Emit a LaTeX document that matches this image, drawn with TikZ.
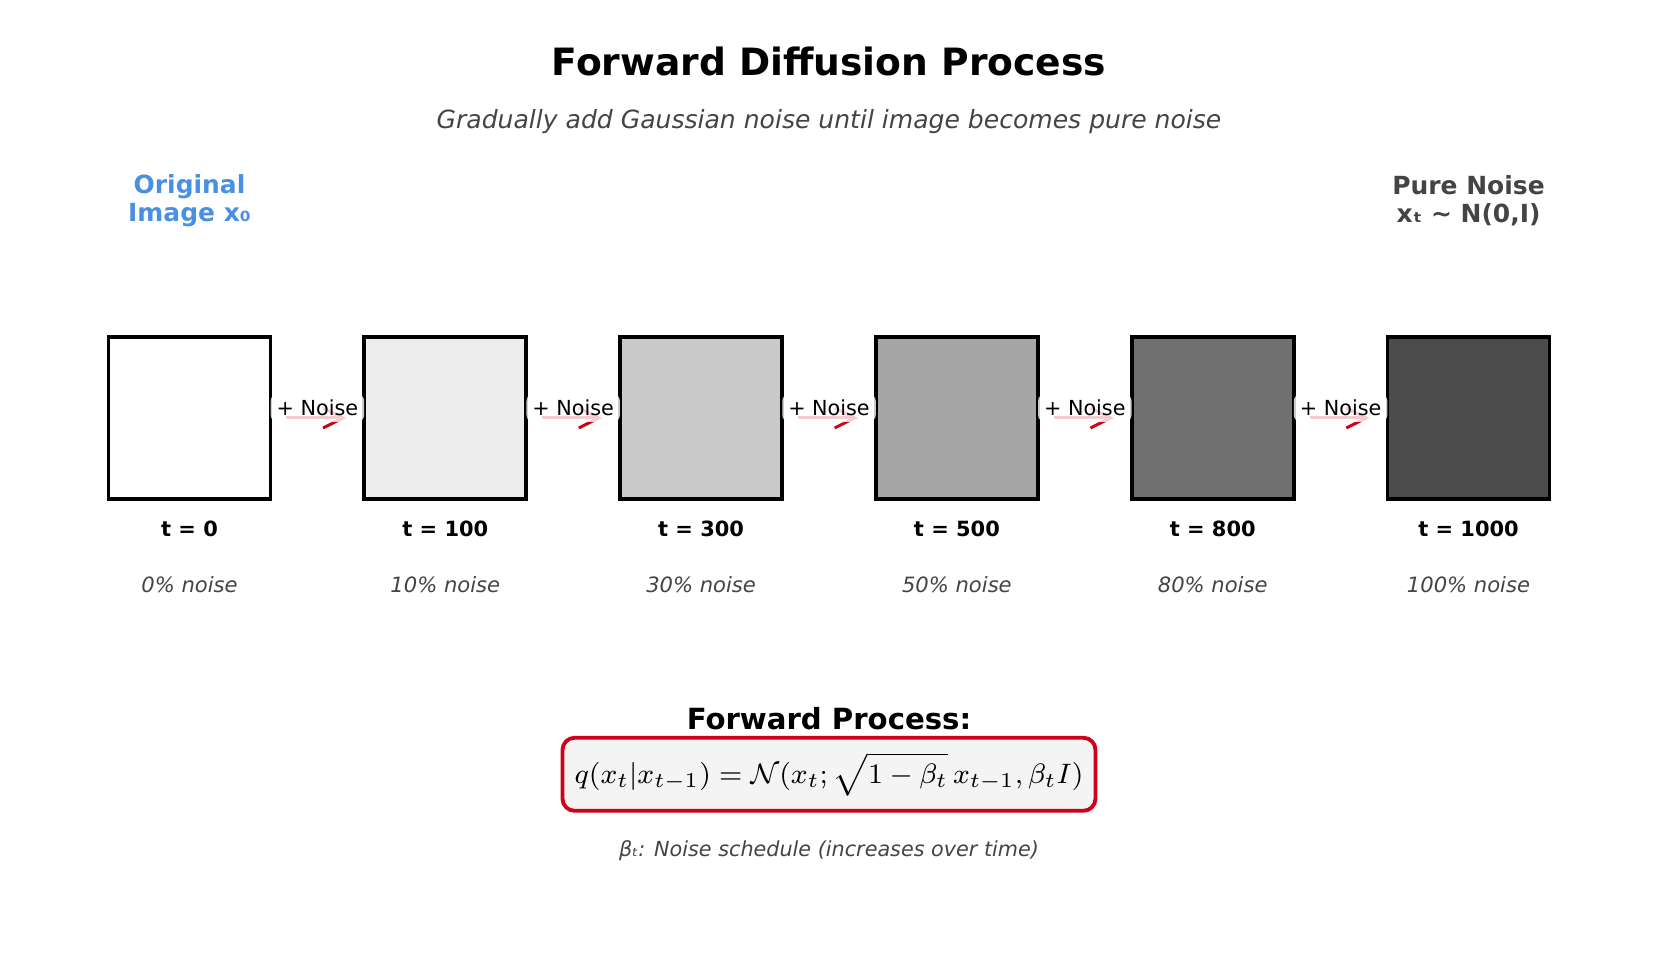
\documentclass[tikz,border=0pt]{standalone}
\usepackage{fontspec}
\setmainfont{DejaVu Sans}
\usetikzlibrary{arrows.meta}

\definecolor{origblue}{HTML}{4A90E2}
\definecolor{textgray}{HTML}{444444}
\definecolor{noisered}{HTML}{D0021B}
\definecolor{formulabg}{HTML}{F4F4F4}

\tikzset{
  imgbox/.style={draw=black, line width=1.1pt, minimum size=1.62cm, inner sep=0pt},
  steplabel/.style={font=\fontsize{5.96}{7}\selectfont\bfseries},
  pctlabel/.style={font=\fontsize{6}{7}\selectfont\itshape, text=textgray},
  noisearrow/.style={noisered, line width=0.85pt, -{Straight Barb[length=0.2cm, width=0.2cm]}, shorten <=0.14cm, shorten >=0.16cm},
  noiselabel/.style={fill=white, fill opacity=0.8, text opacity=1, rounded corners=2pt, inner xsep=0.06cm, inner ysep=0pt, minimum height=0.28cm, font=\fontsize{5.9}{7}\selectfont}
}

\begin{document}
\begin{tikzpicture}

\useasboundingbox (0,0) rectangle (16.57,9.53);

% title
\node[font=\fontsize{10.7}{13}\selectfont\bfseries] (title) at (8.29, 8.917) {Forward Diffusion Process};
\node[font=\fontsize{7.13}{9}\selectfont\itshape, text=textgray] (subtitle) at (8.29, 8.314) {Gradually add Gaussian noise until image becomes pure noise};

\node[align=center, font=\fontsize{7.1}{8.1}\selectfont\bfseries, text=origblue] (orig) at (1.895, 7.522) {Original\\Image x₀};
\node[align=center, font=\fontsize{7.1}{8.1}\selectfont\bfseries, text=textgray] (pure) at (14.685, 7.522) {Pure Noise\\xₜ \textasciitilde{} N(0,I)};

% images
\node[imgbox, fill=white] (b0) at (1.895, 5.35) {};
\node[imgbox, fill=black!7] (b1) at (4.453, 5.35) {};
\node[imgbox, fill=black!21] (b2) at (7.011, 5.35) {};
\node[imgbox, fill=black!35] (b3) at (9.569, 5.35) {};
\node[imgbox, fill=black!56] (b4) at (12.127, 5.35) {};
\node[imgbox, fill=black!70] (b5) at (14.685, 5.35) {};

% steps
\node[steplabel] (t0) at (1.895, 4.245) {t = 0};
\node[steplabel] (t1) at (4.453, 4.245) {t = 100};
\node[steplabel] (t2) at (7.011, 4.245) {t = 300};
\node[steplabel] (t3) at (9.569, 4.245) {t = 500};
\node[steplabel] (t4) at (12.127, 4.245) {t = 800};
\node[steplabel] (t5) at (14.685, 4.245) {t = 1000};

\node[pctlabel] (p0) at (1.895, 3.685) {0\% noise};
\node[pctlabel] (p1) at (4.453, 3.685) {10\% noise};
\node[pctlabel] (p2) at (7.011, 3.685) {30\% noise};
\node[pctlabel] (p3) at (9.569, 3.685) {50\% noise};
\node[pctlabel] (p4) at (12.127, 3.685) {80\% noise};
\node[pctlabel] (p5) at (14.685, 3.685) {100\% noise};

% noise steps
\draw[noisearrow] (b0.east) -- (b1.west);
\draw[noisearrow] (b1.east) -- (b2.west);
\draw[noisearrow] (b2.east) -- (b3.west);
\draw[noisearrow] (b3.east) -- (b4.west);
\draw[noisearrow] (b4.east) -- (b5.west);

\node[noiselabel] (n1) at (3.174, 5.45) {+ Noise};
\node[noiselabel] (n2) at (5.732, 5.45) {+ Noise};
\node[noiselabel] (n3) at (8.29, 5.45) {+ Noise};
\node[noiselabel] (n4) at (10.848, 5.45) {+ Noise};
\node[noiselabel] (n5) at (13.406, 5.45) {+ Noise};

% formula
\node[inner sep=0pt, font=\fontsize{8.3}{10}\selectfont\bfseries] (fhead) at (8.29, 2.34) {Forward Process:};
\node[draw=noisered, line width=1.1pt, fill=formulabg, rounded corners=0.12cm, inner xsep=0.12cm, minimum width=5.22cm, minimum height=0.73cm, font=\fontsize{8}{10}\selectfont] (formula) at (8.29, 1.787)
  {$q(x_t|x_{t-1}) = \mathcal{N}(x_t;\sqrt{1-\beta_t}\,x_{t-1},\beta_t I)$};
\node[font=\fontsize{5.9}{7}\selectfont\itshape, text=textgray] (schedule) at (8.29, 1.02) {βₜ: Noise schedule (increases over time)};

\end{tikzpicture}
\end{document}
